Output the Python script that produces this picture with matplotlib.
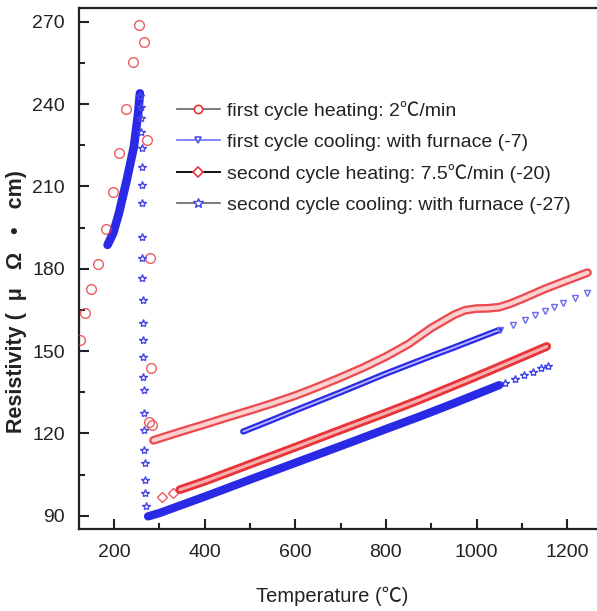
import matplotlib
matplotlib.use('Agg')
import matplotlib.pyplot as plt
from matplotlib.lines import Line2D
from matplotlib.ticker import MultipleLocator

# ---------------- data ----------------
# first cycle heating (red circles)
heat1_sparse_T = [124.5, 135.6, 148.8, 165, 181, 196.7, 211, 226, 240.8, 254.7, 265.8, 273, 279, 280.5, 278, 284]
heat1_sparse_R = [154.0, 163.8, 172.6, 181.7, 194.6, 207.9, 222.2, 238.1, 255.4, 268.7, 262.5, 226.9, 183.8, 143.8, 124.0, 123.0]
heat1_T = [287, 300, 350, 400, 450, 500, 550, 600, 650, 700, 750, 800, 850, 900, 950, 975, 1000, 1025, 1050, 1075, 1100, 1150, 1200, 1245]
heat1_R = [117.5, 118.2, 120.8, 123.3, 125.9, 128.4, 131.0, 133.8, 137.0, 140.4, 144.0, 148.0, 152.6, 158.4, 163.2, 164.9, 165.5, 165.6, 166.0, 167.3, 169.0, 172.6, 175.8, 178.6]

# first cycle cooling (blue down-triangles)
cool1_T = [485, 550, 600, 650, 700, 750, 800, 850, 900, 950, 1000, 1050]
cool1_R = [120.7, 125.0, 128.4, 131.7, 135.0, 138.4, 141.8, 145.0, 148.2, 151.3, 154.5, 157.7]
cool1_sparse_T = [1052, 1081, 1107, 1130, 1152, 1170, 1192, 1218, 1243]
cool1_sparse_R = [157.7, 159.6, 161.5, 163.1, 164.6, 165.9, 167.4, 169.2, 171.0]

# second cycle heating (red diamonds)
heat2_sparse_T = [305, 330]
heat2_sparse_R = [96.8, 98.3]
heat2_T = [345, 400, 500, 600, 700, 800, 875, 950, 1000, 1050, 1100, 1155]
heat2_R = [99.5, 102.6, 108.8, 115.0, 121.3, 127.5, 132.3, 137.4, 140.8, 144.3, 147.8, 151.7]

# second cycle cooling (blue stars)
cool2_T = [275, 300, 400, 500, 600, 700, 800, 875, 950, 1000, 1050]
cool2_R = [89.8, 91.0, 97.0, 103.2, 109.3, 115.4, 121.6, 126.2, 131.0, 134.3, 137.6]
cool2_sparse_T = [1062, 1085, 1105, 1125, 1143, 1158]
cool2_sparse_R = [138.4, 139.9, 141.2, 142.5, 143.7, 144.6]
cool2_drop_T = [258, 259, 259, 260, 260.5, 261, 261, 261.5, 262, 262, 262.5, 263, 263, 263.5, 264, 264.5, 265, 266, 266.5, 267, 267.5, 268, 268.5, 269.5]
cool2_drop_R = [242.8, 239.0, 234.8, 230.0, 223.9, 217.2, 210.5, 203.9, 191.7, 183.8, 176.6, 168.7, 160.2, 154.1, 148.0, 140.7, 135.9, 127.4, 121.3, 114.0, 109.2, 103.1, 98.3, 93.4]
cool2_low_T = [257, 253, 243.7, 228, 210.6, 198, 185.6]
cool2_low_R = [243.9, 236.6, 224.5, 212.4, 200.2, 193.0, 188.7]

labels = ["first cycle heating: 2\u2103/min",
          "first cycle cooling: with furnace (-7)",
          "second cycle heating: 7.5\u2103/min (-20)",
          "second cycle cooling: with furnace (-27)"]

RED = '#e8343a'
PINK = '#fbd0d0'
BLUE = '#2a2ae6'
LBLUE = '#b8b8ff'
TXT = '#222222'

FAM = ['Liberation Sans', 'Noto Sans CJK SC', 'DejaVu Sans']
plt.rcParams['font.family'] = FAM

fig = plt.figure(figsize=(5.97, 6.11), dpi=100)
ax = fig.add_axes([79/597, 82/611, 1 - 79/597, (603 - 82)/611])

def tube(T, R, outer, inner, wo, wi, alpha=1.0):
    ax.plot(T, R, color=outer, lw=wo, solid_capstyle='round', solid_joinstyle='round', alpha=alpha, zorder=3)
    if inner is not None:
        ax.plot(T, R, color=inner, lw=wi, solid_capstyle='round', solid_joinstyle='round', zorder=3.1)

tube(heat1_T, heat1_R, '#ec4a4f', PINK, 6.3, 3.0)
tube(cool1_T, cool1_R, BLUE, LBLUE, 4.5, 1.3)
tube(heat2_T, heat2_R, RED, '#f7b0b0', 6.3, 2.2)
tube(cool2_T, cool2_R, BLUE, None, 6.0, 0)
tube(cool2_low_T, cool2_low_R, BLUE, None, 6.2, 0)

ax.plot(heat1_sparse_T, heat1_sparse_R, 'o', ms=7, mfc='none', mec=RED, mew=1.0, alpha=0.8, zorder=4)
ax.plot(cool1_sparse_T, cool1_sparse_R, 'v', ms=5, mfc='none', mec='#6a6af0', mew=1.0, zorder=4)
ax.plot(heat2_sparse_T, heat2_sparse_R, 'D', ms=5, mfc='none', mec=RED, mew=1.0, alpha=0.8, zorder=4)
ax.plot(cool2_sparse_T, cool2_sparse_R, '*', ms=6, mfc='none', mec='#4040e8', mew=1.0, zorder=4)
ax.plot(cool2_drop_T, cool2_drop_R, '*', ms=6, mfc='none', mec='#4848ea', mew=1.0, zorder=4)

ax.set_xlim(122.5, 1266)
ax.set_ylim(85.2, 275)
ax.xaxis.set_major_locator(MultipleLocator(200))
ax.xaxis.set_minor_locator(MultipleLocator(100))
ax.yaxis.set_major_locator(MultipleLocator(30))
ax.yaxis.set_minor_locator(MultipleLocator(15))
ax.tick_params(which='both', direction='in', width=1.5, labelsize=14, colors=TXT)
ax.tick_params(which='major', length=7)
ax.tick_params(which='minor', length=4)
ax.tick_params(axis='x', pad=11)
ax.tick_params(axis='y', pad=10)
ax.tick_params(top=False, right=False)
for s in ['left', 'bottom', 'top']:
    ax.spines[s].set_linewidth(1.6)
    ax.spines[s].set_color(TXT)
ax.spines['right'].set_visible(False)

fig.text(332/597, 1 - 596/611, "Temperature (\u2103)", ha='center', va='center', fontsize=14.5, color=TXT)
fig.text(17/597, 1 - 302/611, "Resistivity (  \u03bc   \u03a9   \u2022   cm)", ha='center', va='center', rotation=90,
         fontsize=15.5, fontweight='bold', color=TXT,
         family=['Liberation Sans', 'DejaVu Sans'])

handles = [
    Line2D([], [], color='#666666', lw=1.2, marker='o', ms=6, mfc='white', mec=RED, mew=1.2),
    Line2D([], [], color='#7070ff', lw=1.2, marker='v', ms=5, mfc='white', mec='#5050f0', mew=1.2),
    Line2D([], [], color='#111111', lw=1.4, marker='D', ms=5, mfc='white', mec=RED, mew=1.2),
    Line2D([], [], color='#666666', lw=1.2, marker='*', ms=7, mfc='white', mec='#4040e8', mew=1.0),
]
leg = fig.legend(handles, labels, loc='upper left', bbox_to_anchor=(177/597, 1 - 101/611),
                 frameon=False, prop={'family': FAM, 'size': 14}, handlelength=2.2,
                 handletextpad=0.36, labelspacing=0.68, borderaxespad=0, borderpad=0)
for t in leg.get_texts():
    t.set_color(TXT)

fig.savefig('out.png', dpi=100)
